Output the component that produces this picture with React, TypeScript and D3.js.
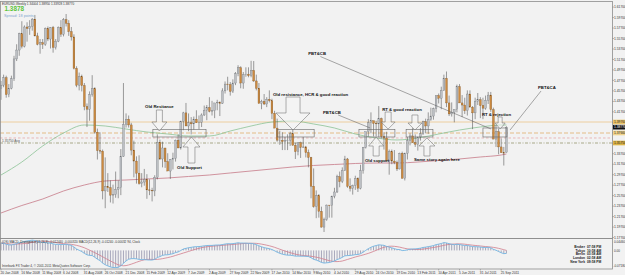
import * as d3 from "d3";

type Bar = [number, number, number, number]; // open, high, low, close

// EURUSD weekly bars, first bar = week of 20 Jan 2008
const candles2008: Bar[] = [
  [1.4620, 1.4760, 1.4400, 1.4680], [1.4680, 1.4880, 1.4640, 1.4820], [1.4820, 1.4860, 1.4440, 1.4500],
  [1.4500, 1.4700, 1.4450, 1.4620], [1.4620, 1.4860, 1.4600, 1.4800], [1.4800, 1.5240, 1.4760, 1.5180],
  [1.5180, 1.5460, 1.5140, 1.5350], [1.5350, 1.5680, 1.5240, 1.5660], [1.5660, 1.5900, 1.5380, 1.5420],
  [1.5420, 1.5820, 1.5400, 1.5790], [1.5790, 1.5880, 1.5510, 1.5760], [1.5760, 1.5920, 1.5640, 1.5800],
  [1.5800, 1.5960, 1.5720, 1.5940], [1.5940, 1.6020, 1.5610, 1.5620], [1.5620, 1.5680, 1.5440, 1.5460],
  [1.5460, 1.5560, 1.5280, 1.5490], [1.5490, 1.5560, 1.5370, 1.5460], [1.5460, 1.5780, 1.5430, 1.5760],
  [1.5760, 1.5800, 1.5520, 1.5560], [1.5560, 1.5790, 1.5380, 1.5780], [1.5780, 1.5810, 1.5300, 1.5400],
  [1.5400, 1.5560, 1.5360, 1.5520], [1.5520, 1.5800, 1.5500, 1.5780], [1.5780, 1.5920, 1.5600, 1.5650],
  [1.5650, 1.5960, 1.5610, 1.5930], [1.5930, 1.6038, 1.5800, 1.5860], [1.5860, 1.5920, 1.5620, 1.5700],
  [1.5700, 1.5790, 1.5530, 1.5600], [1.5600, 1.5650, 1.4980, 1.5000], [1.5000, 1.5040, 1.4640, 1.4680],
  [1.4680, 1.4920, 1.4580, 1.4840], [1.4840, 1.4880, 1.4560, 1.4670], [1.4670, 1.4720, 1.4200, 1.4270],
  [1.4270, 1.4330, 1.3880, 1.4220], [1.4220, 1.4560, 1.4000, 1.4500], [1.4500, 1.4870, 1.4460, 1.4610],
  [1.4610, 1.4640, 1.3750, 1.3780], [1.3780, 1.3850, 1.3260, 1.3430], [1.3430, 1.3780, 1.3370, 1.3420],
  [1.3420, 1.3450, 1.2500, 1.2660], [1.2660, 1.3300, 1.2330, 1.2740], [1.2740, 1.3000, 1.2640, 1.2720],
  [1.2720, 1.2860, 1.2440, 1.2580], [1.2580, 1.2780, 1.2420, 1.2590], [1.2590, 1.3030, 1.2530, 1.2690],
  [1.2690, 1.2860, 1.2520, 1.2720], [1.2720, 1.3460, 1.2580, 1.3320], [1.3320, 1.4720, 1.3310, 1.3930],
  [1.3930, 1.4140, 1.3870, 1.4030], [1.4030, 1.4100, 1.3870, 1.3920]
];

const candles2009: Bar[] = [
  [1.3920, 1.3960, 1.3340, 1.3440], [1.3440, 1.3620, 1.2920, 1.3230], [1.3230, 1.3320, 1.2800, 1.3000],
  [1.3000, 1.3340, 1.2780, 1.2800], [1.2800, 1.3000, 1.2730, 1.2830], [1.2830, 1.3080, 1.2760, 1.2880],
  [1.2880, 1.2980, 1.2510, 1.2680], [1.2680, 1.2880, 1.2580, 1.2670], [1.2670, 1.2720, 1.2460, 1.2660],
  [1.2660, 1.2960, 1.2560, 1.2920], [1.2920, 1.3740, 1.2880, 1.3590], [1.3590, 1.3640, 1.3250, 1.3270],
  [1.3270, 1.3600, 1.3110, 1.3480], [1.3480, 1.3480, 1.3100, 1.3220], [1.3220, 1.3380, 1.3040, 1.3040],
  [1.3040, 1.3270, 1.2890, 1.3260], [1.3260, 1.3390, 1.3070, 1.3280], [1.3280, 1.3640, 1.3220, 1.3630],
  [1.3630, 1.3740, 1.3480, 1.3480], [1.3480, 1.4000, 1.3450, 1.3990], [1.3990, 1.4170, 1.3820, 1.4150],
  [1.4150, 1.4340, 1.3900, 1.3900], [1.3900, 1.4140, 1.3800, 1.3960], [1.3960, 1.4070, 1.3740, 1.3940],
  [1.3940, 1.4080, 1.3830, 1.4030], [1.4030, 1.4200, 1.3960, 1.3960], [1.3960, 1.4100, 1.3840, 1.3970],
  [1.3970, 1.4140, 1.3880, 1.4110], [1.4110, 1.4290, 1.4090, 1.4200], [1.4200, 1.4300, 1.4010, 1.4250],
  [1.4250, 1.4450, 1.4160, 1.4180], [1.4180, 1.4380, 1.4100, 1.4190], [1.4190, 1.4340, 1.4050, 1.4340],
  [1.4340, 1.4400, 1.4200, 1.4350], [1.4350, 1.4370, 1.4090, 1.4330], [1.4330, 1.4620, 1.4320, 1.4570],
  [1.4570, 1.4750, 1.4520, 1.4700], [1.4700, 1.4840, 1.4580, 1.4690], [1.4690, 1.4740, 1.4480, 1.4560],
  [1.4560, 1.4790, 1.4530, 1.4720], [1.4720, 1.4930, 1.4680, 1.4900], [1.4900, 1.5060, 1.4850, 1.5010],
  [1.5010, 1.5040, 1.4620, 1.4720], [1.4720, 1.4930, 1.4610, 1.4880], [1.4880, 1.5020, 1.4840, 1.4890],
  [1.4890, 1.5020, 1.4830, 1.4860], [1.4860, 1.5144, 1.4830, 1.4960], [1.4960, 1.5140, 1.4740, 1.4760],
  [1.4760, 1.4880, 1.4580, 1.4620], [1.4620, 1.4720, 1.4330, 1.4330], [1.4330, 1.4400, 1.4220, 1.4370],
  [1.4370, 1.4510, 1.4300, 1.4320]
];

const candles2010: Bar[] = [
  [1.4320, 1.4450, 1.4260, 1.4410], [1.4410, 1.4580, 1.4350, 1.4380], [1.4380, 1.4420, 1.4030, 1.4140],
  [1.4140, 1.4190, 1.3860, 1.3860], [1.3860, 1.4040, 1.3600, 1.3630], [1.3630, 1.3810, 1.3540, 1.3630],
  [1.3630, 1.3780, 1.3440, 1.3600], [1.3600, 1.3690, 1.3440, 1.3630], [1.3630, 1.3740, 1.3440, 1.3630],
  [1.3630, 1.3790, 1.3520, 1.3750], [1.3750, 1.3840, 1.3530, 1.3530], [1.3530, 1.3580, 1.3270, 1.3410],
  [1.3410, 1.3580, 1.3340, 1.3580], [1.3580, 1.3600, 1.3290, 1.3490], [1.3490, 1.3690, 1.3480, 1.3500],
  [1.3500, 1.3520, 1.3300, 1.3390], [1.3390, 1.3450, 1.3110, 1.3300], [1.3300, 1.3310, 1.2520, 1.2750],
  [1.2750, 1.3090, 1.2340, 1.2360], [1.2360, 1.2670, 1.2140, 1.2570], [1.2570, 1.2600, 1.2150, 1.2270],
  [1.2270, 1.2360, 1.1960, 1.1970], [1.1970, 1.2150, 1.1876, 1.2110], [1.2110, 1.2400, 1.2090, 1.2390],
  [1.2390, 1.2390, 1.2150, 1.2380], [1.2380, 1.2570, 1.2150, 1.2560], [1.2560, 1.2720, 1.2520, 1.2640],
  [1.2640, 1.2970, 1.2620, 1.2930], [1.2930, 1.3030, 1.2730, 1.2840], [1.2840, 1.3110, 1.2810, 1.3050],
  [1.3050, 1.3330, 1.3040, 1.3270], [1.3270, 1.3290, 1.2720, 1.2750], [1.2750, 1.2900, 1.2650, 1.2710],
  [1.2710, 1.2780, 1.2590, 1.2760], [1.2760, 1.2950, 1.2680, 1.2900], [1.2900, 1.2920, 1.2640, 1.2710],
  [1.2710, 1.3160, 1.2690, 1.3050], [1.3050, 1.3500, 1.2990, 1.3490], [1.3490, 1.3790, 1.3470, 1.3790],
  [1.3790, 1.4030, 1.3700, 1.3960], [1.3960, 1.4160, 1.3760, 1.4000], [1.4000, 1.4000, 1.3700, 1.3950],
  [1.3950, 1.4000, 1.3700, 1.3940], [1.3940, 1.4280, 1.3690, 1.4040], [1.4040, 1.4060, 1.3660, 1.3700],
  [1.3700, 1.3780, 1.3450, 1.3670], [1.3670, 1.3790, 1.3220, 1.3240], [1.3240, 1.3450, 1.2970, 1.3410],
  [1.3410, 1.3450, 1.3170, 1.3230], [1.3230, 1.3440, 1.3170, 1.3200], [1.3200, 1.3240, 1.3040, 1.3080],
  [1.3080, 1.3390, 1.3070, 1.3380]
];

const candles2011: Bar[] = [
  [1.3380, 1.3410, 1.2900, 1.2900], [1.2900, 1.3390, 1.2860, 1.3380], [1.3380, 1.3690, 1.3260, 1.3620],
  [1.3620, 1.3760, 1.3530, 1.3710], [1.3710, 1.3860, 1.3580, 1.3580], [1.3580, 1.3740, 1.3500, 1.3550],
  [1.3550, 1.3690, 1.3430, 1.3690], [1.3690, 1.3860, 1.3620, 1.3750], [1.3750, 1.4000, 1.3730, 1.3980],
  [1.3980, 1.4040, 1.3760, 1.3900], [1.3900, 1.4160, 1.3750, 1.4020], [1.4020, 1.4250, 1.4000, 1.4090],
  [1.4090, 1.4250, 1.4020, 1.4230], [1.4230, 1.4480, 1.4160, 1.4480], [1.4480, 1.4520, 1.4330, 1.4430],
  [1.4430, 1.4650, 1.4220, 1.4580], [1.4580, 1.4880, 1.4570, 1.4810], [1.4810, 1.4940, 1.4260, 1.4340],
  [1.4340, 1.4480, 1.4090, 1.4130], [1.4130, 1.4350, 1.4080, 1.4160], [1.4160, 1.4200, 1.3970, 1.4220],
  [1.4220, 1.4690, 1.4160, 1.4650], [1.4650, 1.4700, 1.4340, 1.4340], [1.4340, 1.4490, 1.4070, 1.4300],
  [1.4300, 1.4440, 1.4130, 1.4190], [1.4190, 1.4580, 1.4100, 1.4510], [1.4510, 1.4580, 1.4260, 1.4260],
  [1.4260, 1.4280, 1.3840, 1.4150], [1.4150, 1.4440, 1.4030, 1.4370], [1.4370, 1.4530, 1.4300, 1.4400],
  [1.4400, 1.4450, 1.4050, 1.4290], [1.4290, 1.4440, 1.4030, 1.4240], [1.4240, 1.4480, 1.4210, 1.4390],
  [1.4390, 1.4550, 1.4320, 1.4490], [1.4490, 1.4550, 1.4170, 1.4210], [1.4210, 1.4250, 1.3650, 1.3650],
  [1.3650, 1.3920, 1.3500, 1.3790], [1.3790, 1.3850, 1.3360, 1.3500], [1.3500, 1.3660, 1.3390, 1.3390],
  [1.3390, 1.3500, 1.3145, 1.3380], [1.3400, 1.3895, 1.3393, 1.3877]
];

// date labels every 8 bars
const dateLabels = [
  "20 Jan 2008", "16 Mar 2008", "11 May 2008", "6 Jul 2008", "31 Aug 2008", "26 Oct 2008", "21 Dec 2008",
  "15 Feb 2009", "12 Apr 2009", "7 Jun 2009", "2 Aug 2009", "27 Sep 2009", "22 Nov 2009", "17 Jan 2010",
  "14 Mar 2010", "9 May 2010", "4 Jul 2010", "29 Aug 2010", "24 Oct 2010", "19 Dec 2010", "13 Feb 2011",
  "10 Apr 2011", "5 Jun 2011", "31 Jul 2011", "25 Sep 2011"
];

const priceTicks = [
  1.617, 1.597, 1.577, 1.557, 1.537, 1.517, 1.497, 1.477, 1.457, 1.437, 1.417, 1.397,
  1.377, 1.357, 1.337, 1.317, 1.297, 1.277, 1.257, 1.237, 1.217, 1.197, 1.177
];

// slow moving averages, read every 8 bars
const maIndex = [0, 8, 16, 24, 32, 40, 48, 56, 64, 72, 80, 88, 96, 104, 112, 120, 128, 136, 144, 152, 160, 168, 176, 184, 192, 194];
const greenMa = [
  1.2964, 1.3212, 1.3518, 1.3766, 1.3919, 1.3900, 1.3842, 1.3785, 1.3747, 1.3709, 1.3709, 1.3804, 1.3900,
  1.3976, 1.3995, 1.3938, 1.3862, 1.3747, 1.3671, 1.3633, 1.3671, 1.3747, 1.3823, 1.3881, 1.3919, 1.3919
];
const redMa = [
  1.2239, 1.2382, 1.2506, 1.2659, 1.2773, 1.2850, 1.2869, 1.2888, 1.2907, 1.2936, 1.2964, 1.3003, 1.3041,
  1.3079, 1.3117, 1.3146, 1.3165, 1.3184, 1.3193, 1.3193, 1.3212, 1.3241, 1.3270, 1.3308, 1.3346, 1.3365
];

// horizontal levels
const levelSolid = 1.3976;
const levelDash = 1.3766;
const levelRed = 1.3671;
const levelAvg = 1.3575;
const lastPrice = 1.3877;
const bidText = "1.3878";

// MACD start value read at left edge of the sub window
const macdStart = 0.03;
const macdRange = [-0.0718, 0.0446];

// drawn objects, anchored on bar index and price
const boxes = [
  { i0: 58.3, i1: 78.7, p0: 1.3690, p1: 1.3835 },
  { i0: 106, i1: 120.2, p0: 1.3690, p1: 1.3835 },
  { i0: 137.4, i1: 151.2, p0: 1.3690, p1: 1.3835 },
  { i0: 155.5, i1: 165.8, p0: 1.3690, p1: 1.3835 },
  { i0: 185, i1: 194.2, p0: 1.3690, p1: 1.3862 }
];
const arrows = [
  { i: 60.8, tail: 1.4205, base: 1.3976, tip: 1.3804, sw: 3, hw: 7.5 },
  { i: 73.1, tail: 1.3193, base: 1.3499, tip: 1.3690, sw: 3.5, hw: 8.5 },
  { i: 112.1, tail: 1.4453, base: 1.4148, tip: 1.3823, sw: 7, hw: 17 },
  { i: 148.6, tail: 1.4167, base: 1.3976, tip: 1.3842, sw: 3, hw: 7 },
  { i: 144, tail: 1.3327, base: 1.3518, tip: 1.3690, sw: 3, hw: 7.5 },
  { i: 158.9, tail: 1.4110, base: 1.3957, tip: 1.3823, sw: 3, hw: 7 },
  { i: 163.5, tail: 1.3327, base: 1.3518, tip: 1.3671, sw: 3, hw: 8 },
  { i: 191.6, tail: 1.4072, base: 1.3957, tip: 1.3842, sw: 2, hw: 5 }
];
const notes = [
  { i: 55.3, p: 1.4234, text: "Old Resitance" },
  { i: 67.6, p: 1.3079, text: "Old Support" },
  { i: 104.4, p: 1.4473, text: "Old resistance,  HCR & good reaction" },
  { i: 117.9, p: 1.5246, text: "PBT&CB" },
  { i: 123.6, p: 1.4138, text: "PBT&CB" },
  { i: 146.3, p: 1.4186, text: "RT & good reaction" },
  { i: 139.7, p: 1.3203, text: "Old support" },
  { i: 158.5, p: 1.3241, text: "Same story again here" },
  { i: 184.6, p: 1.4091, text: "RT & rejection" },
  { i: 206.1, p: 1.4597, text: "PBT&CA" }
];
const links = [
  { i0: 122.6, p0: 1.5226, i1: 188.1, p1: 1.3843 },
  { i0: 129.4, p0: 1.4110, i1: 141.7, p1: 1.3862 },
  { i0: 207.3, p0: 1.4568, i1: 195.4, p1: 1.3823 }
];

const clockNames = ["Broker", "Tokyo", "Berlin", "London", "New York"];
const clockTimes = ["07:58 PM", "10:58 AM", "03:58 AM", "02:58 AM", "09:58 PM"];

const BG = "#f2f2f2";
const FONT = "'Liberation Sans', Arial, sans-serif";

export default function App() {
  const candles = [...candles2008, ...candles2009, ...candles2010, ...candles2011];
  const right = 612.5;
  const mainTop = 1.5;
  const mainBottom = 238.5;
  const subBottom = 269;

  const x = d3.scaleLinear().domain([0, 192]).range([1, 501.2]);
  const y = d3.scaleLinear().domain([1.1876, 1.6038]).range([232, 14]);
  const ym = d3.scaleLinear().domain(macdRange).range([268, 239.5]);

  // MACD(12,26,9) from weekly closes
  const closes = candles.map((c) => c[3]);
  let fast = closes[0];
  let slow = closes[0] - macdStart;
  const macd = closes.map((c, i) => {
    if (i > 0) {
      fast += ((c - fast) * 2) / 13;
      slow += ((c - slow) * 2) / 27;
    }
    return fast - slow;
  });
  const signal = macd.map((_, i) => d3.mean(macd.slice(Math.max(0, i - 8), i + 1)) ?? 0);

  const maLine = d3
    .line<number>()
    .x((_, k) => x(maIndex[k]))
    .y((v) => y(v))
    .curve(d3.curveMonotoneX);
  const subLine = d3
    .line<number>()
    .x((_, k) => x(k))
    .y((v) => ym(v));

  const arrowPath = (a: (typeof arrows)[number]) => {
    const cx = x(a.i);
    const t = y(a.tail);
    const b = y(a.base);
    const p = y(a.tip);
    return `M${cx - a.sw},${t}L${cx + a.sw},${t}L${cx + a.sw},${b}L${cx + a.hw},${b}L${cx},${p}L${cx - a.hw},${b}L${cx - a.sw},${b}Z`;
  };

  const fmt = d3.format(".5f");
  const tagged = [
    { p: levelSolid, fill: "#ecc56a", color: "#222" },
    { p: lastPrice, fill: "#111", color: "#fff" },
    { p: levelDash, fill: "#f0d48c", color: "#222" },
    { p: levelAvg, fill: "#dcb446", color: "#222" }
  ];

  return (
    <svg
      width={625}
      height={275}
      viewBox="0 0 625 275"
      style={{ position: "absolute", left: 0, top: 0, display: "block", background: BG }}
      fontFamily={FONT}
    >
      <defs>
        <clipPath id="mainClip">
          <rect x={0} y={mainTop} width={right} height={mainBottom - mainTop} />
        </clipPath>
        <clipPath id="subClip">
          <rect x={0} y={mainBottom} width={right} height={subBottom - mainBottom} />
        </clipPath>
      </defs>
      <rect x={0} y={0} width={625} height={275} fill={BG} />

      <g clipPath="url(#mainClip)">
        {/* levels */}
        <line x1={0} x2={right} y1={y(levelSolid)} y2={y(levelSolid)} stroke="#ecc58c" strokeWidth={0.8} />
        <line x1={0} x2={right} y1={y(levelDash)} y2={y(levelDash)} stroke="#e0a85a" strokeWidth={0.7} strokeDasharray="4 2" />
        <line x1={0} x2={right} y1={y(levelRed)} y2={y(levelRed)} stroke="#e08e8e" strokeWidth={0.6} strokeDasharray="2.5 2" />
        <line x1={0} x2={right} y1={y(levelAvg)} y2={y(levelAvg)} stroke="#77773f" strokeWidth={0.6} strokeDasharray="3 1.5 1 1.5" />
        <text x={2} y={y(levelAvg) - 0.6} fontSize={3.2} fill="#555">1.35750 Avg</text>

        {/* moving averages */}
        <path d={maLine(greenMa) ?? ""} fill="none" stroke="#8cc396" strokeWidth={0.8} />
        <path d={maLine(redMa) ?? ""} fill="none" stroke="#c77a88" strokeWidth={0.8} />

        {/* candles */}
        {candles.map(([o, h, l, c], i) => {
          const up = c >= o;
          const cx = x(i);
          const top = y(Math.max(o, c));
          const bot = y(Math.min(o, c));
          return (
            <g key={i}>
              <line x1={cx} x2={cx} y1={y(h)} y2={y(l)} stroke="#3e3e3e" strokeWidth={0.5} />
              <rect
                x={cx - 0.9}
                y={top}
                width={1.8}
                height={Math.max(0.5, bot - top)}
                fill={up ? "#bcbfc3" : "#cc8a40"}
                stroke={up ? "#6a6e73" : "#7d5220"}
                strokeWidth={0.3}
              />
            </g>
          );
        })}

        {/* drawn objects */}
        {boxes.map((b, k) => (
          <rect
            key={k}
            x={x(b.i0)}
            y={y(b.p1)}
            width={x(b.i1) - x(b.i0)}
            height={y(b.p0) - y(b.p1)}
            fill="none"
            stroke="#666"
            strokeWidth={0.6}
          />
        ))}
        {arrows.map((a, k) => (
          <path key={k} d={arrowPath(a)} fill="#f6f6f6" fillOpacity={0.55} stroke="#6e6e6e" strokeWidth={0.55} />
        ))}
        {links.map((l, k) => (
          <line key={k} x1={x(l.i0)} y1={y(l.p0)} x2={x(l.i1)} y2={y(l.p1)} stroke="#555" strokeWidth={0.5} />
        ))}
        {notes.map((n, k) => (
          <text key={k} x={x(n.i)} y={y(n.p)} fontSize={4.3} fontWeight="bold" fill="#111">
            {n.text}
          </text>
        ))}
      </g>

      {/* header */}
      <text x={2} y={4.5} fontSize={3.1} fill="#333">EURUSD,Weekly  1.34004 1.38950 1.33928 1.38770</text>
      <text x={4.5} y={10.6} fontSize={6.4} fontWeight="bold" fill="#5cc43a">{bidText}</text>
      <text x={4} y={16.6} fontSize={3.8} fill="#7fa6cf">Spread: 18 points</text>

      {/* MACD window */}
      <g clipPath="url(#subClip)">
        {macd.map((v, i) => (
          <line key={i} x1={x(i)} x2={x(i)} y1={ym(0)} y2={ym(v)} stroke="#5a5a82" strokeWidth={0.5} />
        ))}
        <path d={subLine(signal) ?? ""} fill="none" stroke="#d07c8c" strokeWidth={0.8} />
        <path d={subLine(macd) ?? ""} fill="none" stroke="#72b4e2" strokeWidth={0.9} />
      </g>
      <text x={2} y={242.6} fontSize={3.1} fill="#333">
        (OS) MACD_Divergence(12,26,9) -0.012440 -0.000320   MACD(12,26,9) -0.01240 -0.00032   94, Clock
      </text>
      <text x={2} y={267.2} fontSize={3.1} fill="#333">Interbank FX Trader 4, © 2001-2011 MetaQuotes Software Corp.</text>
      {clockNames.map((n, k) => (
        <g key={n} fontSize={3.3} fontWeight="bold" fill="#222">
          <text x={585} y={248 + k * 3.7} textAnchor="end">{n}</text>
          <text x={587} y={248 + k * 3.7}>{clockTimes[k]}</text>
        </g>
      ))}

      {/* frames */}
      <rect x={0.5} y={mainTop} width={right - 0.5} height={mainBottom - mainTop} fill="none" stroke="#8c8c8c" strokeWidth={0.8} />
      <rect x={0.5} y={mainBottom} width={right - 0.5} height={subBottom - mainBottom} fill="none" stroke="#8c8c8c" strokeWidth={0.8} />

      {/* price axis */}
      {priceTicks.map((p) => (
        <g key={p}>
          <line x1={right} x2={right + 1.5} y1={y(p)} y2={y(p)} stroke="#777" strokeWidth={0.5} />
          <text x={614} y={y(p) + 1.1} fontSize={3.3} fill="#333">{fmt(p)}</text>
        </g>
      ))}
      {tagged.map((t) => (
        <g key={t.p}>
          <rect x={613} y={y(t.p) - 2.3} width={12} height={4.6} fill={t.fill} />
          <text x={614} y={y(t.p) + 1.2} fontSize={3.3} fill={t.color}>{fmt(t.p)}</text>
        </g>
      ))}
      <text x={614} y={243} fontSize={3.1} fill="#333">{macdRange[1].toFixed(5)}</text>
      <text x={614} y={ym(0) + 1.1} fontSize={3.1} fill="#333">0.00</text>
      <text x={613.5} y={267.4} fontSize={3.1} fill="#333">{macdRange[0].toFixed(5)}</text>

      {/* time axis */}
      {dateLabels.map((d, k) => (
        <g key={d}>
          <line x1={x(k * 8)} x2={x(k * 8)} y1={subBottom} y2={subBottom + 1.5} stroke="#777" strokeWidth={0.5} />
          <text x={x(k * 8) - 0.5} y={273.6} fontSize={3.3} fill="#333">{d}</text>
        </g>
      ))}
    </svg>
  );
}
